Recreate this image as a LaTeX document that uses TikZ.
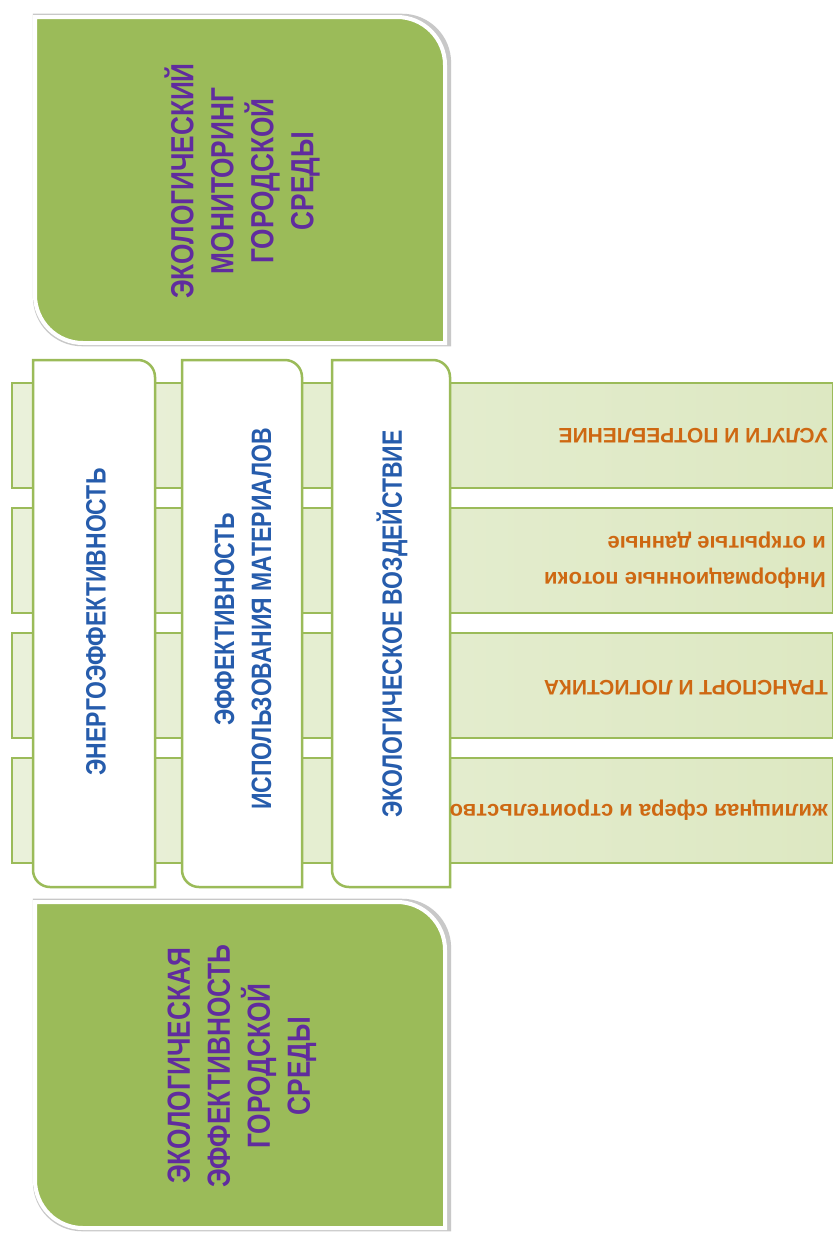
\documentclass[tikz,border=0pt]{standalone}
\usepackage{fontspec}
\setmainfont{Liberation Sans}
\newfontfamily\condbold[FakeStretch=0.82]{Liberation Sans Bold}
\newfontfamily\plainbold{Liberation Sans Bold}
\usetikzlibrary{shadows}
\definecolor{ogreen}{RGB}{155,187,89}
\definecolor{stripfillA}{RGB}{234,241,218}
\definecolor{stripfillB}{RGB}{221,232,194}
\definecolor{purpletext}{RGB}{96,44,158}
\definecolor{bluetext}{RGB}{38,92,172}
\definecolor{orangetext}{RGB}{206,104,18}
% #1 style, #2 left x, #3 top y, #4 right x, #5 bottom y, #6 corner radius
\newcommand{\rrbox}[6]{%
  \path[#1] (#2,#3) -- ({#4-#6},#3)
    .. controls ({#4-0.448*#6},#3) and (#4,{#3+0.448*#6}) .. (#4,{#3+#6})
    -- (#4,#5) -- ({#2+#6},#5)
    .. controls ({#2+0.448*#6},#5) and (#2,{#5-0.448*#6}) .. (#2,{#5-#6})
    -- cycle;}
\begin{document}
\begin{tikzpicture}[x=1pt,y=-1pt,
  greenbox/.style={fill=ogreen, draw=white, line width=4pt,
    drop shadow={shadow scale=1.02, shadow xshift=2pt, shadow yshift=0pt, opacity=0.3, fill=black!70}},
  whitebox/.style={fill=white, draw=ogreen, line width=2.5pt},
  stripbox/.style={draw=ogreen, line width=1.2pt, left color=stripfillA, right color=stripfillB},
  ptext/.style={rotate=90, align=center, text=purpletext, inner sep=0pt,
    font=\condbold\fontsize{32}{40}\selectfont},
  btext/.style={rotate=90, align=center, text=bluetext, inner sep=0pt,
    font=\condbold\fontsize{28}{37}\selectfont},
  otext/.style={rotate=180, anchor=west, align=left, text=orangetext, inner sep=0pt,
    font=\plainbold\fontsize{21}{36}\selectfont},
  otextlow/.style={otext, font=\plainbold\fontsize{22}{36}\selectfont}]
\useasboundingbox (0,0) rectangle (834,1234);
\fill[white] (0,0) rectangle (834,1234);

% green boxes
\rrbox{greenbox}{35}{17}{445}{343}{48}
\rrbox{greenbox}{35}{902}{445}{1228}{48}

% light green strips
\path[stripbox] (12,383) rectangle (832.5,488);
\path[stripbox] (12,508) rectangle (832.5,613);
\path[stripbox] (12,633) rectangle (832.5,738);
\path[stripbox] (12,758) rectangle (832.5,863);

% white boxes
\rrbox{whitebox}{33}{360}{155}{887}{17}
\rrbox{whitebox}{182}{360}{302}{887}{17}
\rrbox{whitebox}{332}{360}{450}{887}{17}

% texts
\node[ptext] (mon) at (242,181) {ЭКОЛОГИЧЕСКИЙ\\МОНИТОРИНГ\\ГОРОДСКОЙ\\СРЕДЫ};
\node[ptext] (eff) at (242,1066) {ЭКОЛОГИЧЕСКАЯ\\ЭФФЕКТИВНОСТЬ\\ГОРОДСКОЙ\\СРЕДЫ};

\node[btext] (energy) at (96,622) {ЭНЕРГОЭФФЕКТИВНОСТЬ};
\node[btext] (mat) at (243,619) {ЭФФЕКТИВНОСТЬ\\ИСПОЛЬЗОВАНИЯ МАТЕРИАЛОВ};
\node[btext] (impact) at (392,624) {ЭКОЛОГИЧЕСКОЕ ВОЗДЕЙСТВИЕ};

\node[otext] (serv) at (828,436) {УСЛУГИ И ПОТРЕБЛЕНИЕ};
\node[otextlow] (info) at (826,560) {Информационные потоки\\и открытые данные};
\node[otext] (trans) at (828,688) {ТРАНСПОРТ И ЛОГИСТИКА};
\node[otextlow] (house) at (828,810) {жилищная сфера и строительство};
\end{tikzpicture}
\end{document}
